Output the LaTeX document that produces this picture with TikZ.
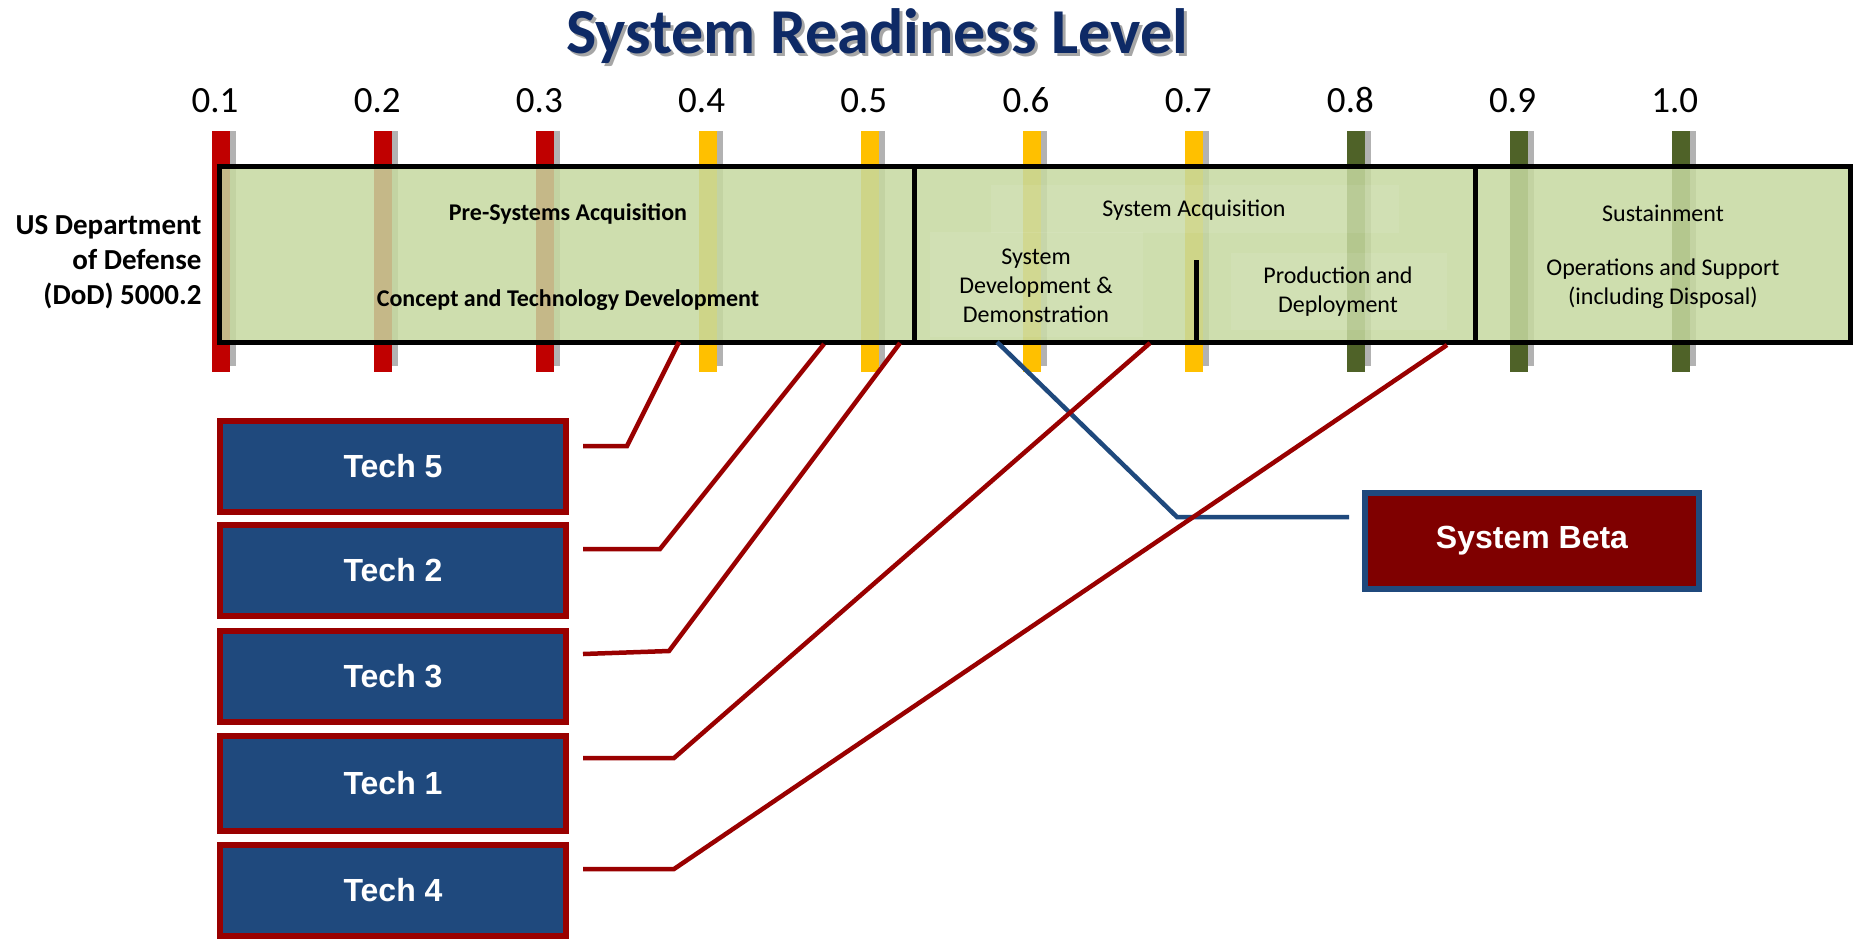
\documentclass[tikz,border=0pt]{standalone}
\usepackage{fontspec}
\setmainfont{Carlito}
\newfontfamily\arialfont{Liberation Sans}
\usetikzlibrary{calc}
\definecolor{barred}{HTML}{C00000}
\definecolor{baramber}{HTML}{FFC000}
\definecolor{bargreen}{HTML}{4F6228}
\definecolor{boxgreen}{HTML}{C6D9A0}
\definecolor{titlenavy}{HTML}{0E2A66}
\definecolor{techblue}{HTML}{1F497D}
\definecolor{linered}{HTML}{990000}
\definecolor{betamaroon}{HTML}{7F0000}
\tikzset{
  secbox/.style={draw=black, line width=5pt, fill=boxgreen, fill opacity=0.85, inner sep=0pt, minimum height=176pt},
  patch/.style={fill=white, fill opacity=0.08},
  regtext/.style={font=\fontsize{24}{29}\selectfont, align=center, text=black},
  boldtext/.style={font=\bfseries\fontsize{24}{29}\selectfont, align=center, text=black},
  techbox/.style={draw=linered, line width=6pt, fill=techblue, text=white, inner sep=0pt,
    font=\arialfont\bfseries\fontsize{32}{36}\selectfont, minimum width=346pt, minimum height=91pt},
  betabox/.style={draw=techblue, line width=6pt, fill=betamaroon, text=white, inner sep=0pt,
    font=\arialfont\bfseries\fontsize{32}{36}\selectfont, minimum width=334pt, minimum height=96pt},
  conn/.style={draw=linered, line width=4.5pt, line join=miter},
  bconn/.style={draw=techblue, line width=4.5pt, line join=miter},
  ticklabel/.style={font=\fontsize{37}{40}\selectfont, anchor=base, text=black}
}
\begin{document}
\begin{tikzpicture}[x=1pt,y=-1pt]
\useasboundingbox (0,0) rectangle (1854,940);
\fill[white] (0,0) rectangle (1854,940);

% title
\node[text=black!35, anchor=base, font=\bfseries\fontsize{64}{70}\selectfont] (titleshadow) at (880,56) {System Readiness Level};
\node[text=titlenavy, anchor=base, font=\bfseries\fontsize{64}{70}\selectfont] (title) at (877,53) {System Readiness Level};

% tick labels and bars
\foreach \t [count=\i] in {0.1,0.2,0.3,0.4,0.5,0.6,0.7,0.8,0.9,1.0}{
  \pgfmathsetmacro\xc{215+(\i-1)*162.2}
  \node[ticklabel] (lab\i) at (\xc,112) {\t};
}
\foreach \c [count=\i] in {barred,barred,barred,baramber,baramber,baramber,baramber,bargreen,bargreen,bargreen}{
  \pgfmathsetmacro\xl{212+(\i-1)*162.2}
  \fill[black!30] ({\xl+18},131) rectangle ({\xl+24},366);
  \fill[\c] (\xl,131) rectangle ({\xl+18},372);
}

% main box sections
\node[secbox, minimum width=695pt] (pre) at (566.5,254) {};
\node[secbox, minimum width=561pt] (acq) at (1194.5,254) {};
\node[secbox, minimum width=375pt] (sus) at (1662.5,254) {};
\fill[patch] (991,185) rectangle (1399,233);
\fill[patch] (930,232) rectangle (1143,337);
\fill[patch] (1231,253) rectangle (1447,330);
\draw[line width=5pt] (1196,260) -- (1196,342);

% box texts
\node[boldtext] (pretitle) at (568,214) {Pre-Systems Acquisition};
\node[boldtext] (ctd) at (568,300) {Concept and Technology Development};
\node[font=\bfseries\fontsize{29}{35}\selectfont, align=right, anchor=east] (dod) at (205,262) {US Department\\of Defense\\(DoD) 5000.2};
\node[regtext] (acqtitle) at (1194,210) {System Acquisition};
\node[regtext] (sdd) at (1036,286) {System\\Development \&\\Demonstration};
\node[regtext] (pd) at (1338,291.5) {Production and\\Deployment};
\node[regtext] (sustitle) at (1663,213) {Sustainment};
\node[regtext] (ops) at (1663,283.5) {Operations and Support\\(including Disposal)};

% technology boxes
\node[techbox] (t5) at (393,466) {Tech 5};
\node[techbox] (t2) at (393,570) {Tech 2};
\node[techbox] (t3) at (393,676) {Tech 3};
\node[techbox, minimum height=95pt] (t1) at (393,783) {Tech 1};
\node[techbox] (t4) at (393,890) {Tech 4};
\node[betabox] (beta) at (1532,541) {System Beta};

% connector end points
\coordinate (e5) at (583,446);   \coordinate (k5) at (627,446);  \coordinate (s5) at (679,342);
\coordinate (e2) at (583,549);   \coordinate (k2) at (660,549);  \coordinate (s2) at (824,344);
\coordinate (e3) at (583,654);   \coordinate (k3) at (669,651);  \coordinate (s3) at (900,343);
\coordinate (e1) at (583,758);   \coordinate (k1) at (674,758);  \coordinate (s1) at (1150,343);
\coordinate (e4) at (583,869);   \coordinate (k4) at (674,869);  \coordinate (s4) at (1447,345);
\coordinate (sb) at (997,342);   \coordinate (kb) at (1177,517); \coordinate (eb) at (1349,517);

\draw[bconn] (sb) -- (kb) -- (eb);
\draw[conn] (e5) -- (k5) -- (s5);
\draw[conn] (e2) -- (k2) -- (s2);
\draw[conn] (e3) -- (k3) -- (s3);
\draw[conn] (e1) -- (k1) -- (s1);
\draw[conn] (e4) -- (k4) -- (s4);
\end{tikzpicture}
\end{document}
